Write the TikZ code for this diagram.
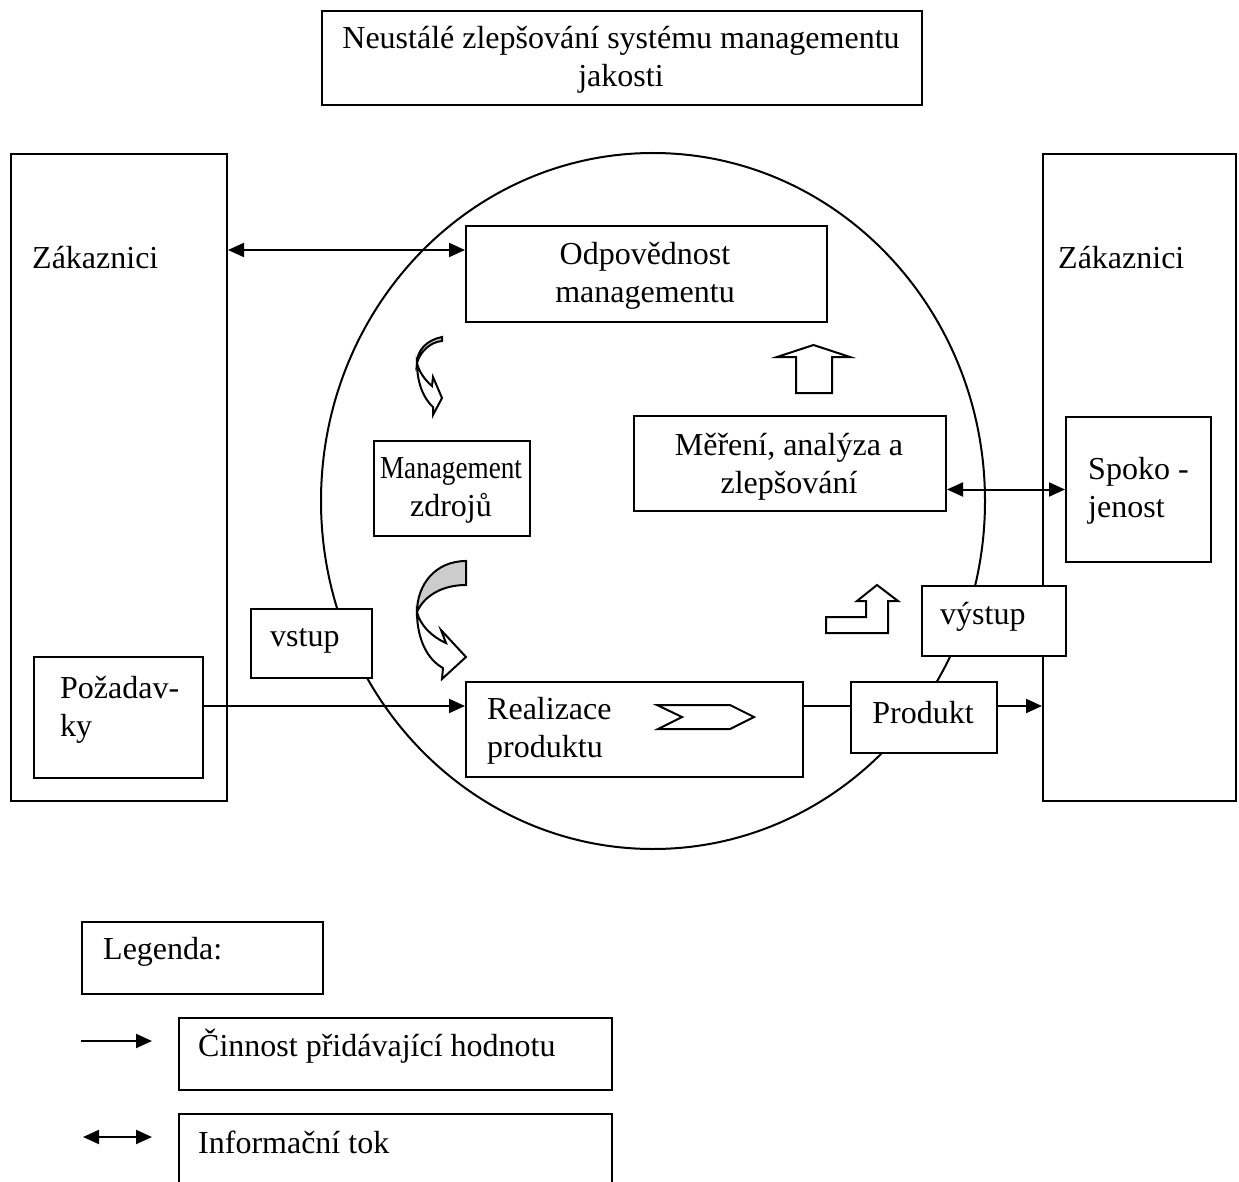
\documentclass[tikz,border=0pt]{standalone}
\usepackage{fontspec}
\usepackage{graphicx}
\setmainfont{Liberation Serif}
\usetikzlibrary{arrows.meta}
\tikzset{
  box/.style={draw, fill=white, line width=2pt, inner sep=0pt, anchor=north west},
  txt/.style={inner sep=0pt, font=\fontsize{32}{38}\selectfont},
  ctxt/.style={txt, align=center},
  ltxt/.style={txt, align=left, anchor=west},
  conn/.style={line width=2pt},
  arr/.style={conn, -{Triangle[length=16pt,width=14pt]}},
  dbl/.style={conn, {Triangle[length=16pt,width=14pt]}-{Triangle[length=16pt,width=14pt]}},
  blk/.style={draw, line width=2pt, line join=miter, fill=white},
}
\begin{document}
\begin{tikzpicture}[x=1pt,y=-1pt]
\useasboundingbox (0,0) rectangle (1239,1182);
\clip (0,0) rectangle (1239,1182);
% circle
\draw[line width=2pt] (653,501) ellipse [x radius=332, y radius=348];
% top box
\node[box, minimum width=600pt, minimum height=94pt] (top) at (321,10) {};
\node[ctxt] (toptxt) at (621,60) {Neustálé zlepšování systému managementu\\jakosti};
% customers
\node[box, fill=none, minimum width=216pt, minimum height=647pt] (ZL) at (10,153) {};
\node[ltxt] (ZLt) at (32,258) {Zákaznici};
\node[box, fill=none, minimum width=193pt, minimum height=647pt] (ZR) at (1042,153) {};
\node[ltxt] (ZRt) at (1058,258) {Zákaznici};
% inner boxes
\node[box, minimum width=361pt, minimum height=96pt] (odp) at (465,225) {};
\node[ctxt] (odpt) at (645,276) {Odpovědnost\\managementu};
\node[box, minimum width=156pt, minimum height=95pt] (mz) at (373,440) {};
\node[ctxt] (mzt) at (451,490) {\scalebox{0.85}[1]{Management}\\zdrojů};
\node[box, minimum width=312pt, minimum height=95pt] (mer) at (633,415) {};
\node[ctxt] (mert) at (789,467) {Měření, analýza a\\zlepšování};
\node[box, minimum width=145pt, minimum height=145pt] (spo) at (1065,416) {};
\node[ltxt] (spot) at (1088,491) {Spoko -\\jenost};
\node[box, minimum width=144pt, minimum height=70pt] (vys) at (921,585) {};
\node[ltxt] (vyst) at (940,617) {výstup};
\node[box, minimum width=121pt, minimum height=69pt] (vst) at (250,608) {};
\node[ltxt] (vstt) at (270,641) {vstup};
\node[box, minimum width=169pt, minimum height=121pt] (poz) at (33,656) {};
\node[ltxt] (pozt) at (60,710) {Požadav-\\ky};
\node[box, minimum width=337pt, minimum height=95pt] (real) at (465,681) {};
\node[ltxt] (realt) at (487,731) {Realizace\\produktu};
\node[box, minimum width=146pt, minimum height=71pt] (prod) at (850,681) {};
\node[ctxt] (prodt) at (923,713) {Produkt};
% connectors
\draw[dbl] ([yshift=24pt]odp.west -| ZL.east) -- ([yshift=24pt]odp.west);
\draw[dbl] (mer.east |- spo.west) -- (spo.west);
\draw[arr] ([yshift=11.5pt]poz.east) -- ([yshift=11.5pt]poz.east -| real.west);
\draw[conn] ([yshift=11.5pt]prod.west -| real.east) -- ([yshift=11.5pt]prod.west);
\draw[arr] ([yshift=11.5pt]prod.east) -- ([yshift=11.5pt]prod.east -| ZR.west);
% chevron
\draw[blk] (657,705) -- (730,705) -- (754,717) -- (730,729) -- (658,729) -- (682,717) -- cycle;
% up arrow
\draw[blk] (796,393) -- (796,357) -- (777,357) -- (813.5,345) -- (850,357) -- (832,357) -- (832,393) -- cycle;
% bent up arrow
\draw[blk] (826,633) -- (826,617) -- (866,617) -- (866,601) -- (857,601) -- (877,585) -- (898,601) -- (888,601) -- (888,633) -- cycle;
% curved arrow 1
\draw[blk, fill=gray!40] (442,337) .. controls (427,340) and (417,350) .. (417,363) .. controls (420,352) and (430,342) .. (442,341) -- cycle;
\draw[blk] (417,363) .. controls (417,385) and (425,400) .. (433,407) -- (433,415) -- (442,398) -- (433,377) -- (432,386) .. controls (425,380) and (419,372) .. (417,363) -- cycle;
% curved arrow 2
\draw[blk, fill=gray!40] (466,561) .. controls (435,561) and (417,585) .. (417,612) .. controls (424,596) and (442,585) .. (466,585) -- cycle;
\draw[blk] (417,612) .. controls (417,640) and (428,660) .. (443,668) -- (442,679) -- (466,657) -- (441,630) -- (446,643) .. controls (432,637) and (420,625) .. (417,612) -- cycle;
% legend
\node[box, minimum width=241pt, minimum height=72pt] (leg) at (81,921) {};
\node[ltxt] (legt) at (103,952) {Legenda:};
\node[box, minimum width=433pt, minimum height=72pt] (cin) at (178,1017) {};
\node[ltxt] (cint) at (198,1046) {Činnost přidávající hodnotu};
\node[box, minimum width=433pt, minimum height=100pt] (inf) at (178,1113) {};
\node[ltxt] (inft) at (198,1142) {Informační tok};
\coordinate (a1s) at (81,1041);
\coordinate (a2s) at (83,1137);
\draw[arr] (a1s) -- ([xshift=-26pt]cin.west |- a1s);
\draw[dbl] (a2s) -- ([xshift=-26pt]inf.west |- a2s);
\end{tikzpicture}
\end{document}
